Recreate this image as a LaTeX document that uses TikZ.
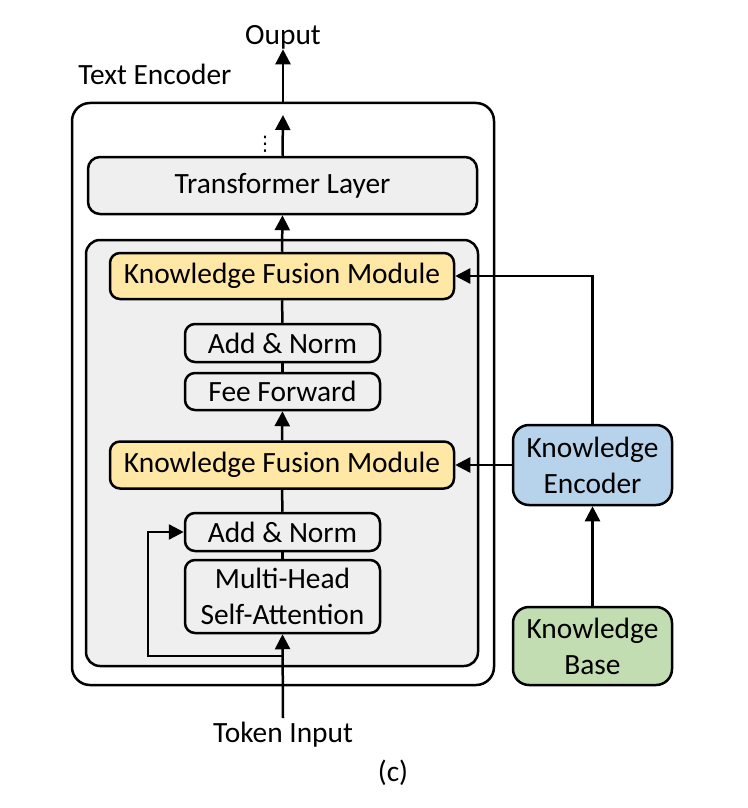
\documentclass[tikz,border=0pt]{standalone}
\usepackage{fontspec}
\setmainfont{Carlito}
\newfontfamily\symfont{DejaVu Sans}
\usetikzlibrary{arrows.meta,positioning}
\definecolor{boxgray}{HTML}{EFEFEF}
\definecolor{fusion}{HTML}{FFE7A6}
\definecolor{kenc}{HTML}{B7D2EB}
\definecolor{kbase}{HTML}{C2DDB1}

\begin{document}
\begin{tikzpicture}[x=0.5pt,y=-0.5pt,
  font=\fontsize{14.7}{18}\selectfont,
  every node/.style={inner sep=0pt},
  blk/.style={draw=black,line width=1.25pt,rounded corners=5pt,align=center,fill=boxgray},
  arr/.style={-{Triangle[width=7.5pt,length=7.5pt]},line width=1.25pt},
  ln/.style={line width=1.25pt}]
\useasboundingbox (0,0) rectangle (748,808);
% \draw[help lines] (0,0) grid (748,808);
\node (enc) [blk,fill=white,rounded corners=9pt,minimum width=211pt,minimum height=291pt] at (283,394) {};
\node (layer) [blk,rounded corners=7pt,minimum width=196pt,minimum height=213pt] at (282,453) {};
\node (tl) [blk,rounded corners=6pt,minimum width=194.5pt,minimum height=28.5pt] at (282.5,185.5) {Transformer Layer};
\node (kfm1) [blk,fill=fusion,minimum width=172pt,minimum height=23pt] at (282,276) {Knowledge Fusion Module};
\node (an2) [blk,minimum width=97.5pt,minimum height=19pt] at (282.5,343) {Add \& Norm};
\node (ff) [blk,minimum width=97.5pt,minimum height=18.5pt] at (282.5,391.5) {Fee Forward};
\node (kfm2) [blk,fill=fusion,minimum width=172pt,minimum height=23.5pt] at (282,465) {Knowledge Fusion Module};
\node (an1) [blk,minimum width=97.5pt,minimum height=19pt] at (282.5,532) {Add \& Norm};
\node (mhsa) [blk,minimum width=97.5pt,minimum height=36.5pt] at (282.5,596.5) {Multi-Head\\Self-Attention};
\node (ke) [blk,fill=kenc,rounded corners=8pt,minimum width=79.5pt,minimum height=40pt] at (592.5,465) {Knowledge\\Encoder};
\node (kb) [blk,fill=kbase,rounded corners=8pt,minimum width=79.5pt,minimum height=39pt] at (592.5,646) {Knowledge\\Base};
%
\node (out) at (283,37) {Ouput};
\node (encname) [anchor=west] at (78,74) {Text Encoder};
\node (tok) [anchor=north,inner sep=2pt] at (283,718) {Token Input};
\node (cap) at (393,773) {(c)};
\node (dots) [font=\fontsize{10}{10}\symfont] at (265,144) {⋮};
\coordinate (top) at (283,115);
\coordinate (res) at (283,656);
%
\draw[arr] (enc.north) -- (out.south);
\draw[arr] (tl.north) -- (top);
\draw[arr] (kfm1.north) -- (tl.south);
\draw[ln] (kfm1.south) -- (an2.north);
\draw[ln] (an2.south) -- (ff.north);
\draw[arr] (kfm2.north) -- (ff.south);
\draw[ln] (kfm2.south) -- (an1.north);
\draw[ln] (an1.south) -- (mhsa.north);
\draw[arr] (tok.north) -- (mhsa.south);
\draw[arr] (res) -- ++(-135,0) |- (an1.west);
\draw[arr] (ke.west) -- (kfm2.east);
\draw[arr] (ke.north) |- (kfm1.east);
\draw[arr] (kb.north) -- (ke.south);
\end{tikzpicture}
\end{document}
